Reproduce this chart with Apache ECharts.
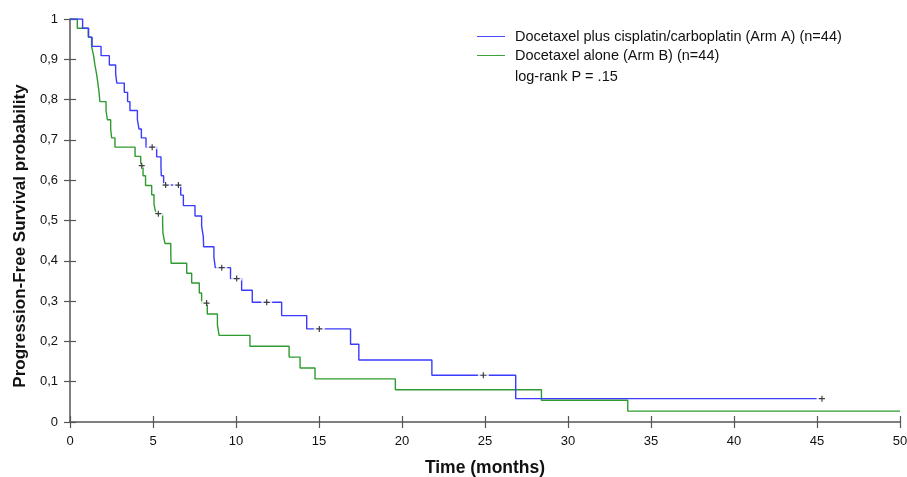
<!DOCTYPE html>
<html>
<head>
<meta charset="utf-8">
<script src="https://cdn.jsdelivr.net/npm/echarts@6/dist/echarts.min.js"></script>
<style>
html,body{margin:0;padding:0;background:#fff;}
#chart{width:907px;height:477px;}
</style>
</head>
<body>
<div id="chart"></div>
<script>
// ---- Data ----
const seriesNames = ['Docetaxel plus cisplatin/carboplatin (Arm A) (n=44)', 'Docetaxel alone (Arm B) (n=44)'];
const annotation = 'log-rank P = .15';
const xTitle = 'Time (months)';
const yTitle = 'Progression-Free Survival probability';

// Arm A (blue): event times (months) and survival after each step
const timesA = [0, 0.76, 1.12, 1.33, 1.87, 2.37, 2.75, 2.82, 3.27, 3.47, 3.61, 4.06, 4.16, 4.30, 4.58,
  5.22, 5.48, 5.50, 5.64, 6.67, 6.83, 7.53, 7.93, 8.03, 8.05, 8.67, 8.75, 9.67, 10.34, 10.98,
  12.75, 14.26, 16.9, 17.4, 21.8, 26.85, 45.3];
const survA = [1, 0.977, 0.955, 0.932, 0.909, 0.886, 0.864, 0.841, 0.818, 0.795, 0.773, 0.750, 0.727, 0.705, 0.682,
  0.658, 0.635, 0.611, 0.588, 0.563, 0.537, 0.511, 0.486, 0.460, 0.435, 0.409, 0.383, 0.356, 0.327, 0.297,
  0.264, 0.231, 0.193, 0.154, 0.116, 0.058, 0.058];
const censorTimesA = [4.95, 5.76, 6.53, 9.14, 10.04, 11.85, 15.02, 24.9, 45.3];
const censorSurvA = [0.682, 0.588, 0.588, 0.383, 0.356, 0.297, 0.231, 0.116, 0.058];

// Arm B (green)
const timesB = [0, 0.44, 1.10, 1.30, 1.42, 1.50, 1.60, 1.68, 1.75, 1.80, 2.17, 2.25, 2.45, 2.51, 2.71,
  3.92, 4.26, 4.40, 4.55, 4.92, 5.06, 5.18, 5.58, 5.60, 5.72, 6.07, 6.09, 7.03, 7.33, 7.79, 7.93,
  8.27, 8.88, 8.98, 10.84, 13.2, 13.86, 14.76, 19.6, 28.4, 33.6, 50];
const survB = [1, 0.977, 0.955, 0.932, 0.909, 0.886, 0.864, 0.841, 0.818, 0.795, 0.773, 0.750, 0.727, 0.705, 0.682,
  0.659, 0.636, 0.611, 0.587, 0.564, 0.540, 0.517, 0.492, 0.468, 0.443, 0.419, 0.394, 0.369, 0.345, 0.320, 0.295,
  0.268, 0.241, 0.215, 0.188, 0.161, 0.134, 0.107, 0.080, 0.054, 0.027, 0.027];
const censorTimesB = [4.32, 5.32, 8.23];
const censorSurvB = [0.636, 0.517, 0.295];

// ---- Build ----
const colorA = '#3b3bff';
const colorB = '#2f9a2f';
const pairs = (xs, ys) => xs.map((x, i) => [x, ys[i]]);
const plusPath = 'path://M4,0H6V4H10V6H6V10H4V6H0V4H4Z';
const font = 'Liberation Sans, Arial, sans-serif';
const narrowFont = 'Liberation Sans Narrow, Liberation Sans, Arial, sans-serif';

const chart = echarts.init(document.getElementById('chart'), null, { renderer: 'canvas' });
const yFmt = v => { const r = Math.round(v * 10) / 10; return String(r).replace('.', ','); };

const option = {
  animation: false,
  backgroundColor: '#fff',
  grid: { left: 70, right: 7, top: 19, bottom: 55, containLabel: false, outerBoundsMode: 'none' },
  legend: {
    orient: 'vertical',
    left: 472,
    top: 24,
    itemWidth: 28,
    itemHeight: 10,
    itemGap: 4,
    icon: 'path://M0,4.5H30V5.5H0Z',
    textStyle: { fontFamily: font, fontSize: 14.5, color: '#111', padding: [0, 0, 0, 5] },
    data: seriesNames
  },
  graphic: [{
    type: 'text',
    left: 515,
    top: 69,
    style: { text: annotation, fontFamily: font, fontSize: 14.5, fill: '#111' }
  }, {
    type: 'text',
    x: 20, y: 236,
    rotation: Math.PI / 2,
    style: { text: yTitle, fontFamily: font, fontSize: 17, fontWeight: 'bold', fill: '#111',
      align: 'center', verticalAlign: 'middle' }
  }, {
    type: 'text',
    x: 485, y: 468,
    style: { text: xTitle, fontFamily: font, fontSize: 17.5, fontWeight: 'bold', fill: '#111',
      align: 'center', verticalAlign: 'middle' }
  }],
  xAxis: [{
    type: 'value', min: 0, max: 50, interval: 5,
    axisLine: { show: true, lineStyle: { color: '#555', width: 1.5 } },
    axisTick: { show: true, length: 6, lineStyle: { color: '#555', width: 1.2 } },
    axisLabel: { fontFamily: narrowFont, fontSize: 13, color: '#111', margin: 13 },
    splitLine: { show: false }
  }, {
    type: 'value', min: 0, max: 50, interval: 5, position: 'bottom',
    axisLine: { show: false },
    axisTick: { show: true, inside: true, length: 6, lineStyle: { color: '#555', width: 1.2 } },
    axisLabel: { show: false },
    splitLine: { show: false }
  }],
  yAxis: [{
    type: 'value', min: 0, max: 1, interval: 0.1,
    axisLine: { show: true, lineStyle: { color: '#555', width: 1.5 } },
    axisTick: { show: true, length: 6, lineStyle: { color: '#555', width: 1.2 } },
    axisLabel: { fontFamily: narrowFont, fontSize: 13, color: '#111', margin: 12, formatter: yFmt },
    splitLine: { show: false }
  }, {
    type: 'value', min: 0, max: 1, interval: 0.1, position: 'left',
    axisLine: { show: false },
    axisTick: { show: true, inside: true, length: 6, lineStyle: { color: '#555', width: 1.2 } },
    axisLabel: { show: false },
    splitLine: { show: false }
  }],
  series: [{
    name: seriesNames[0], type: 'line', step: 'end', symbol: 'none',
    lineStyle: { color: colorA, width: 1.4 }, itemStyle: { color: colorA },
    data: pairs(timesA, survA), z: 3
  }, {
    name: seriesNames[1], type: 'line', step: 'end', symbol: 'none',
    lineStyle: { color: colorB, width: 1.4 }, itemStyle: { color: colorB },
    data: pairs(timesB, survB), z: 2
  }, {
    type: 'scatter', symbol: 'rect', symbolSize: [11, 4], silent: true,
    itemStyle: { color: '#fff' }, z: 4,
    data: pairs(censorTimesA, censorSurvA).concat(pairs(censorTimesB, censorSurvB))
  }, {
    type: 'scatter', symbol: plusPath, symbolSize: 6, silent: true,
    itemStyle: { color: '#111' }, z: 5,
    data: pairs(censorTimesA, censorSurvA).concat(pairs(censorTimesB, censorSurvB))
  }]
};
chart.setOption(option);
</script>
</body>
</html>
